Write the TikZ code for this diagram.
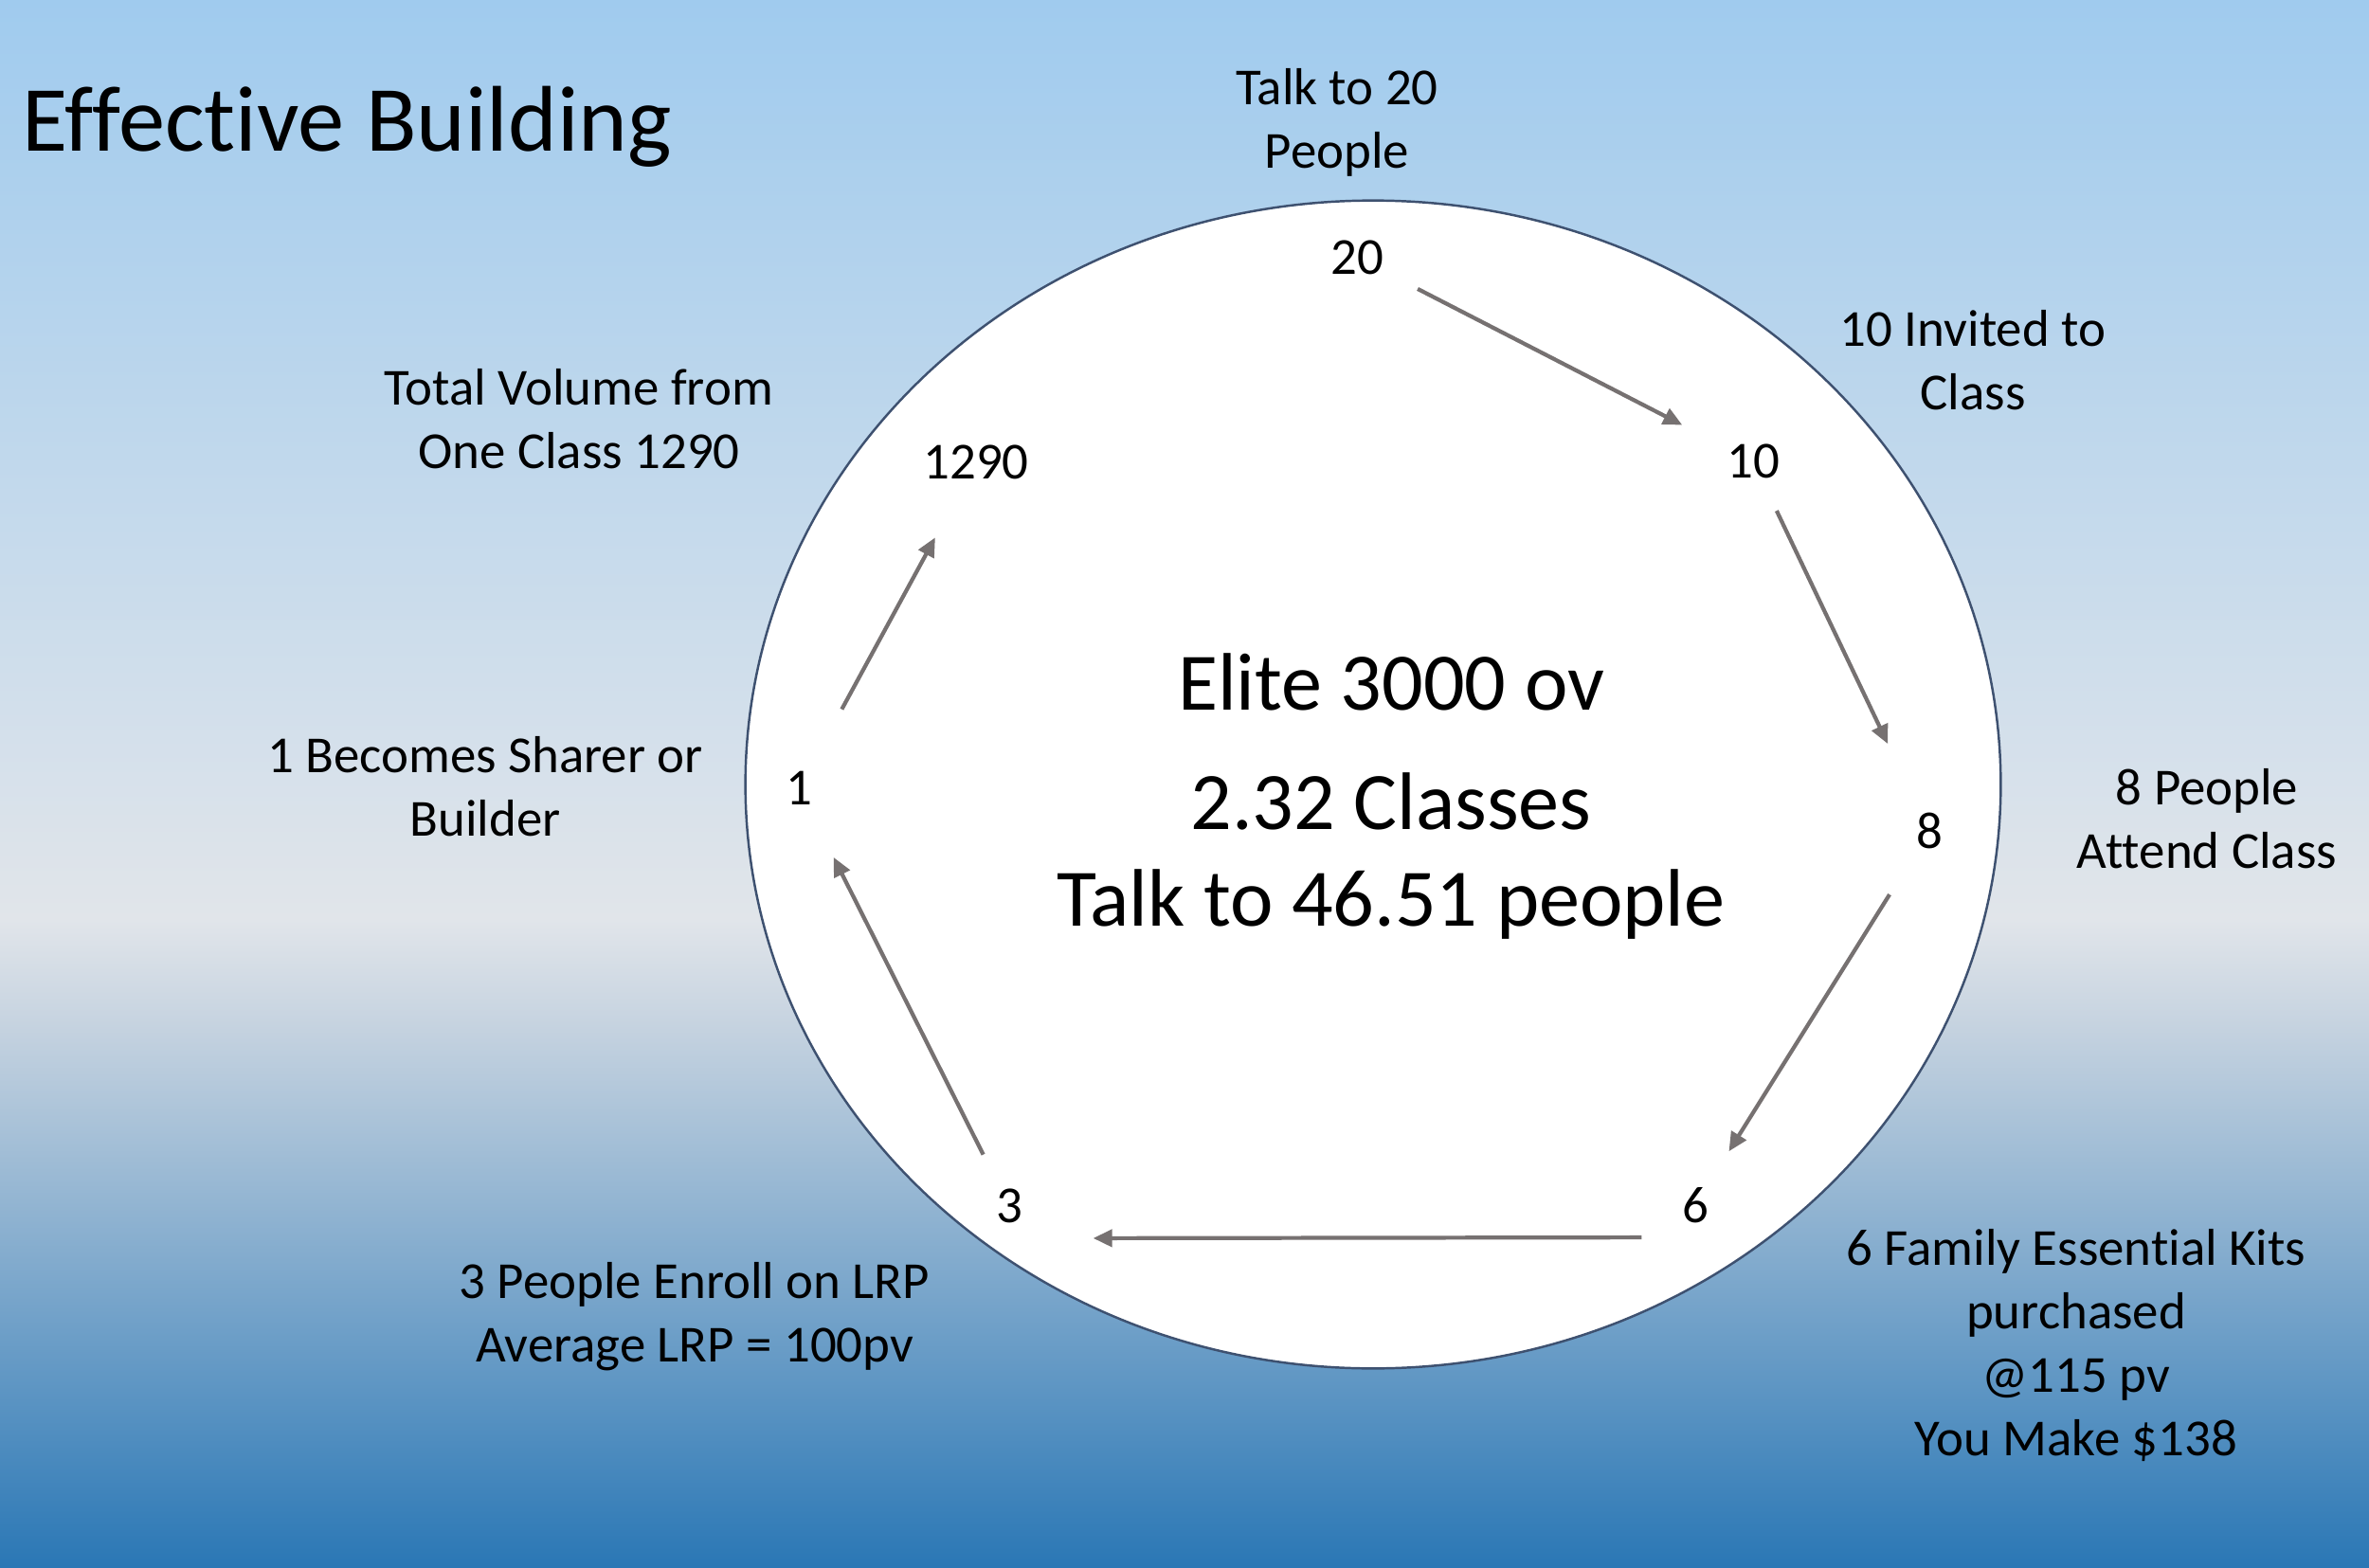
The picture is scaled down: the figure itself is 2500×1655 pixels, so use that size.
\documentclass[tikz,border=0pt]{standalone}
\usepackage{fontspec}
\setmainfont{Carlito}[Ligatures=NoCommon]
\usepackage{xcolor}
\usetikzlibrary{arrows.meta,positioning}

\definecolor{skytop}{HTML}{A0CBEE}
\definecolor{haze}{HTML}{E1E5EA}
\definecolor{hazelow}{HTML}{C6D3E0}
\definecolor{seabot}{HTML}{2A77B5}
\definecolor{arrowgray}{HTML}{767171}
\definecolor{rimblue}{HTML}{3E5170}

\begin{document}
\begin{tikzpicture}[x=0.01cm, y=-0.01cm,
		>={Triangle[length=0.2cm,width=0.18cm]},
		lbl/.style={align=center, font=\fontsize{15.6}{19}\selectfont},
		num/.style={inner sep=0pt, font=\fontsize{15.6}{19}\selectfont},
		big/.style={font=\fontsize{24.5}{30}\selectfont},
		flow/.style={->, draw=arrowgray, line width=1.2pt}]
		\useasboundingbox (0,0) rectangle (2500,1655);
		
		% background
		\shade[top color=skytop, bottom color=haze] (0,0) rectangle (2500,971);
		\shade[top color=haze, bottom color=hazelow] (0,970) rectangle (2500,1081);
		\shade[top color=hazelow, bottom color=seabot] (0,1080) rectangle (2500,1655);
		
		\draw[rimblue, fill=white, line width=0.7pt] (1449,828) ellipse [x radius=6.62cm, y radius=6.16cm];
		
		\node[anchor=base west, font=\fontsize{28}{34}\selectfont] (title) at (11,160) {Effective Building};
		
		% steps round the ring
		\node[num] (n20) at (1432,272) {20};
		\node[num] (n10) at (1850,487) {10};
		\node[num] (n8) at (2036,877) {8};
		\node[num] (n6) at (1789,1272) {6};
		\node[num] (n3) at (1065,1273) {3};
		\node[num] (n1) at (843,832) {1};
		\node[num] (n1290) at (1030,488) {1290};
		
		\node[lbl] (talk) at (1411,129) {Talk to 20\\People};
		\node[lbl] (invited) at (2082,380) {10 Invited to\\Class};
		\node[lbl] (attend) at (2329,864) {8 People\\Attend Class};
		\node[lbl] (kits) at (2191,1420) {6 Family Essential Kits\\purchased\\@115 pv\\You Make \$138};
		\node[lbl] (enroll) at (733,1390) {3 People Enroll on LRP\\Average LRP = 100pv};
		\node[lbl] (sharer) at (512,830) {1 Becomes Sharer or\\Builder};
		\node[lbl] (volume) at (611,442) {Total Volume from\\One Class 1290};
		
		\node[big] (elite) at (1468,720) {Elite 3000 ov};
		\node[big] (classes) at (1468,846) {2.32 Classes};
		\node[big] (people) at (1468,955) {Talk to 46.51 people};
		
		\draw[flow, shorten <=0.40cm, shorten >=0.52cm] (n20) -- (n10);
		\draw[flow, shorten <=0.37cm, shorten >=0.80cm] (n10) -- (n8);
		\draw[flow, shorten <=0.56cm, shorten >=0.44cm] (n8) -- (n6);
		\draw[flow, shorten <=0.42cm, shorten >=0.74cm] ([yshift=-0.34cm]n6.west) -- ([yshift=-0.34cm]n3.east);
		\draw[flow, shorten <=0.40cm, shorten >=0.61cm] (n3) -- (n1);
		\draw[flow, shorten <=0.74cm, shorten >=0.69cm] (n1) -- (n1290);
	\end{tikzpicture}
\end{document}
